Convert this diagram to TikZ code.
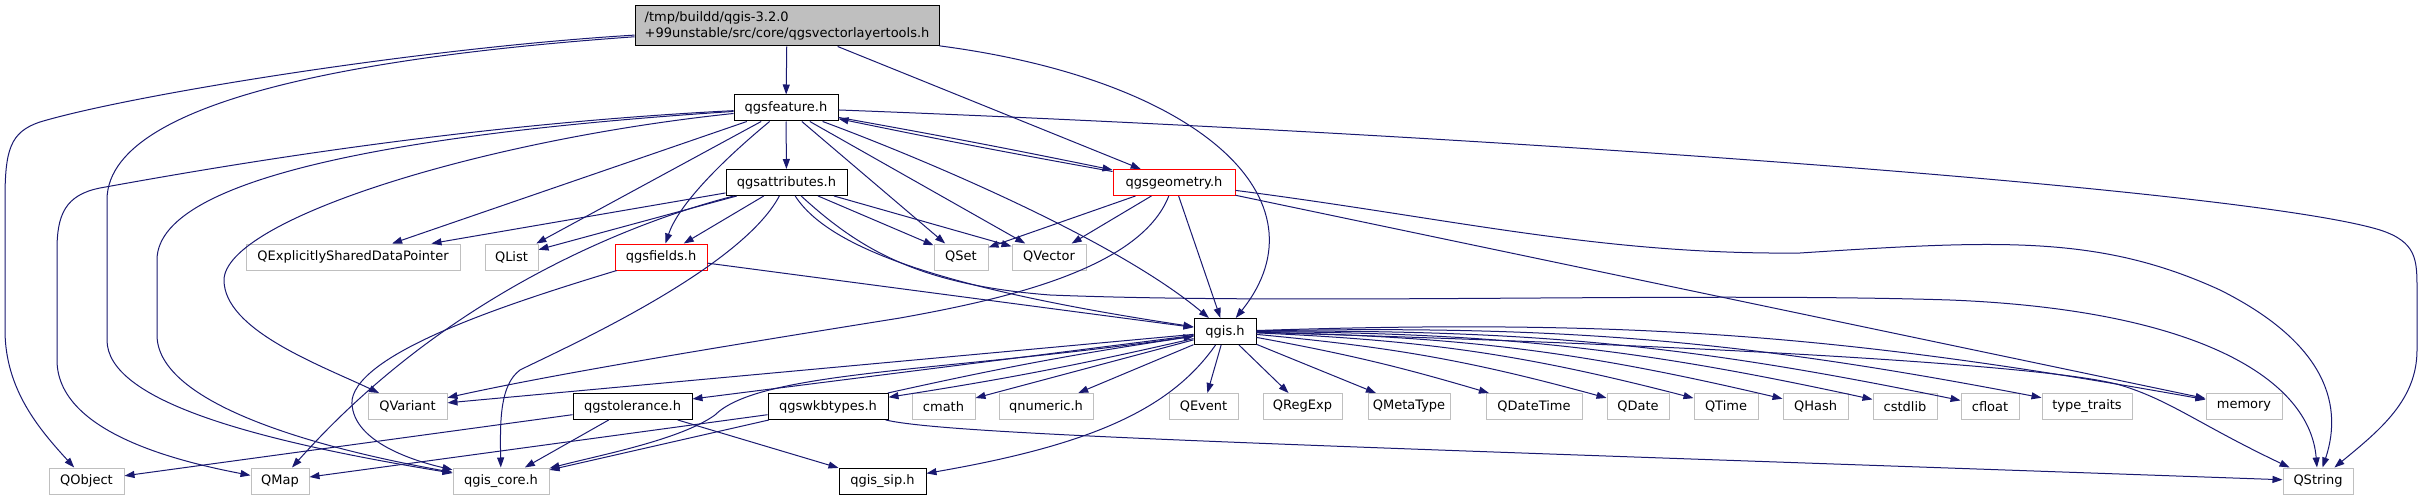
\documentclass[tikz,border=0pt]{standalone}
\usepackage{fontspec}
\setmainfont{DejaVu Sans}
\usetikzlibrary{arrows.meta}
\definecolor{incblue}{RGB}{25,25,112}
\definecolor{leafgray}{RGB}{191,191,191}
\tikzset{
  hdr/.style={draw=black,fill=white,line width=1pt,inner sep=0pt,minimum height=26pt,font=\fontsize{13}{16}\selectfont},
  leafhdr/.style={hdr,draw=leafgray},
  trunc/.style={hdr,draw=red},
  rootfile/.style={hdr,fill=leafgray,align=left,minimum height=40pt},
  dep/.style={draw=incblue,line width=1pt,-{Triangle[length=10pt,width=7pt]}}
}
\newcommand{\inc}[5]{
  \node[#1,minimum width=#4pt] (#2) at #3 {#5};
}

\begin{document}
\begin{tikzpicture}[x=1pt,y=-1pt]
  \useasboundingbox (0,0) rectangle (2435,500);

  % ================= files =================
  \inc{rootfile}{top}{(787,26)}{304}{/tmp/buildd/qgis-3.2.0\\+99unstable/src/core/qgsvectorlayertools.h}
  \inc{hdr}{feat}{(786,108)}{104}{qgsfeature.h}
  \inc{hdr}{attr}{(786.5,182.5)}{121}{qgsattributes.h}
  \inc{trunc}{geom}{(1174,182.5)}{122}{qgsgeometry.h}
  % third row
  \inc{leafhdr}{expl}{(353,257)}{214}{QExplicitlySharedDataPointer}
  \inc{leafhdr}{qlist}{(511.5,257)}{53}{QList}
  \inc{trunc}{fields}{(661,257)}{92}{qgsfields.h}
  \inc{leafhdr}{qset}{(961,257)}{54}{QSet}
  \inc{leafhdr}{qvector}{(1049,257)}{74}{QVector}
  \inc{hdr}{qgis}{(1225,331.5)}{62}{qgis.h}
  % fifth row
  \inc{leafhdr}{qvariant}{(407.5,406.5)}{79}{QVariant}
  \inc{hdr}{tol}{(632.5,406.5)}{119}{qgstolerance.h}
  \inc{hdr}{wkb}{(828,406.5)}{120}{qgswkbtypes.h}
  \inc{leafhdr}{cmath}{(943.5,406.5)}{63}{cmath}
  \inc{leafhdr}{qnumeric}{(1046,406.5)}{94}{qnumeric.h}
  \inc{leafhdr}{qevent}{(1203.5,406.5)}{69}{QEvent}
  \inc{leafhdr}{qregexp}{(1302.5,406.5)}{79}{QRegExp}
  \inc{leafhdr}{qmetatype}{(1409,406.5)}{82}{QMetaType}
  \inc{leafhdr}{qdatetime}{(1534,406.5)}{96}{QDateTime}
  \inc{leafhdr}{qdate}{(1638,406.5)}{62}{QDate}
  \inc{leafhdr}{qtime}{(1726,406.5)}{64}{QTime}
  \inc{leafhdr}{qhash}{(1815.5,406.5)}{65}{QHash}
  \inc{leafhdr}{cstdlib}{(1905,406.5)}{64}{cstdlib}
  \inc{leafhdr}{cfloat}{(1990,406.5)}{58}{cfloat}
  \inc{leafhdr}{typetraits}{(2087,406.5)}{90}{type\_traits}
  \inc{leafhdr}{memory}{(2244,406.5)}{76}{memory}
  % bottom row
  \inc{leafhdr}{qobject}{(86.5,481)}{75}{QObject}
  \inc{leafhdr}{qmap}{(280,481)}{58}{QMap}
  \inc{leafhdr}{core}{(501,481)}{96}{qgis\_core.h}
  \inc{hdr}{sip}{(882.5,481)}{87}{qgis\_sip.h}
  \inc{leafhdr}{qstring}{(2318,481)}{70}{QString}

  % ================= qgsvectorlayertools.h =================
  \draw[dep] (top) -- (feat);
  \draw[dep] (top) -- (geom);
  \draw[dep] (top) .. controls (1200,80) and (1330,200) .. (qgis);
  \draw[dep] (top) .. controls (420,48) and (130,95) .. (40,122) .. controls (10,132) and (5,150) .. (5,200)
    -- (5,330) .. controls (5,390) and (40,430) .. (qobject);
  \draw[dep] (top) .. controls (420,52) and (107,90) .. (107,200) -- (107,340) .. controls (107,400) and (250,440) .. (core);

  % ================= qgsfeature.h =================
  \draw[dep] (feat) .. controls (450,125) and (200,170) .. (100,188) .. controls (65,195) and (57,215) .. (57,250)
    -- (57,360) .. controls (57,430) and (170,460) .. (qmap);
  \draw[dep] (feat) .. controls (450,130) and (157,170) .. (157,260) -- (157,335) .. controls (157,400) and (300,445) .. (core);
  \draw[dep] (feat) .. controls (480,140) and (225,220) .. (224,280) .. controls (224,330) and (320,365) .. (qvariant);
  \draw[dep] (feat) -- (expl);
  \draw[dep] (feat) -- (qlist);
  \draw[dep] (feat) .. controls (735,150) and (680,200) .. (fields);
  \draw[dep] (feat) -- (attr);
  \draw[dep] (feat) -- (qset);
  \draw[dep] (feat) -- (qvector);
  \draw[dep] (feat) .. controls (900,150) and (1110,235) .. (qgis);
  \draw[dep] (feat) to[bend left=0.7] (geom);
  \draw[dep] (feat) .. controls (1500,135) and (2250,190) .. (2380,230) .. controls (2417,242) and (2417,260) .. (2417,290)
    -- (2417,350) .. controls (2417,400) and (2380,430) .. (qstring);

  % ================= qgsgeometry.h =================
  \draw[dep] (geom) to[bend left=0.7] (feat);
  \draw[dep] (geom) -- (qset);
  \draw[dep] (geom) -- (qvector);
  \draw[dep] (geom) .. controls (1140,270) and (1000,300) .. (900,318) .. controls (700,350) and (550,375) .. (qvariant);
  \draw[dep] (geom) -- (qgis);
  \draw[dep] (geom) -- (memory);
  \draw[dep] (geom) .. controls (1450,218) and (1600,255) .. (1800,253) .. controls (2000,240) and (2100,235) .. (2220,290)
    .. controls (2320,340) and (2345,400) .. (qstring);

  % ================= qgsattributes.h =================
  \draw[dep] (attr) -- (expl);
  \draw[dep] (attr) -- (qlist);
  \draw[dep] (attr) -- (fields);
  \draw[dep] (attr) -- (qset);
  \draw[dep] (attr) -- (qvector);
  \draw[dep] (attr) .. controls (830,250) and (950,290) .. (qgis);
  \draw[dep] (attr) .. controls (860,250) and (920,285) .. (1050,295) .. controls (1300,305) and (1700,292) .. (1950,300)
    .. controls (2200,310) and (2310,380) .. (qstring);
  \draw[dep] (attr) .. controls (640,220) and (450,290) .. (qmap);
  \draw[dep] (attr) .. controls (740,270) and (560,350) .. (520,370) .. controls (500,385) and (500,420) .. (core);

  % ================= qgsfields.h =================
  \draw[dep] (fields) -- (qgis);
  \draw[dep] (fields) .. controls (520,300) and (360,350) .. (352,400) .. controls (350,440) and (410,460) .. (core);

  % ================= qgis.h =================
  \draw[dep] (qgis) -- (qvariant);
  \draw[dep] (qgis) -- (tol);
  \draw[dep] (qgis) to[bend left=2] (wkb);
  \draw[dep] (qgis) .. controls (950,372) and (760,370) .. (715,415) .. controls (680,440) and (600,455) .. (core);
  \draw[dep] (qgis) .. controls (1170,410) and (1090,445) .. (sip);
  \draw[dep] (qgis) -- (cmath);
  \draw[dep] (qgis) -- (qnumeric);
  \draw[dep] (qgis) -- (qevent);
  \draw[dep] (qgis) -- (qregexp);
  \draw[dep] (qgis) -- (qmetatype);
  \draw[dep] (qgis) to[bend left=3] (qdatetime);
  \draw[dep] (qgis) to[bend left=5] (qdate);
  \draw[dep] (qgis) to[bend left=6] (qtime);
  \draw[dep] (qgis) to[bend left=6] (qhash);
  \draw[dep] (qgis) to[bend left=6] (cstdlib);
  \draw[dep] (qgis) to[bend left=6] (cfloat);
  \draw[dep] (qgis) to[bend left=6] (typetraits);
  \draw[dep] (qgis) to[bend left=6] (memory);
  \draw[dep] (qgis) .. controls (1700,345) and (2050,365) .. (2120,385) .. controls (2170,400) and (2200,425) .. (qstring);

  % ================= qgstolerance.h / qgswkbtypes.h =================
  \draw[dep] (tol) -- (qobject);
  \draw[dep] (tol) -- (core);
  \draw[dep] (tol) -- (sip);
  \draw[dep] (wkb) to[bend left=2] (qgis);
  \draw[dep] (wkb) -- (qmap);
  \draw[dep] (wkb) -- (core);
  \draw[dep] (wkb) .. controls (950,435) and (1300,445) .. (qstring);
\end{tikzpicture}
\end{document}
